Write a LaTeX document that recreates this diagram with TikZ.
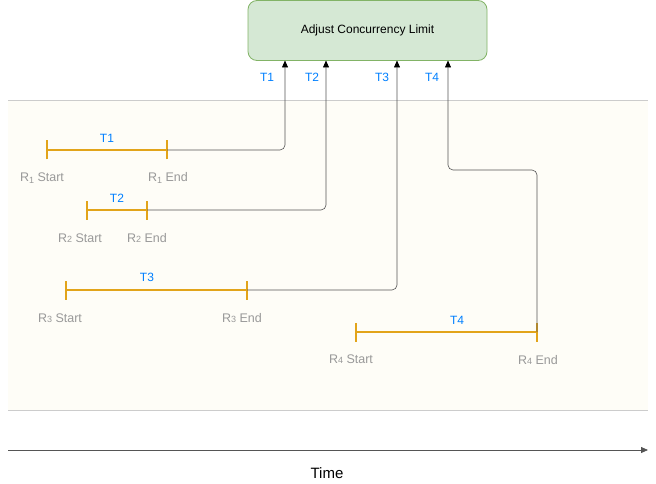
\documentclass[tikz,border=0pt]{standalone}
\usepackage{fontspec}
\setmainfont{Liberation Sans}
\usetikzlibrary{arrows.meta}
\definecolor{boxfill}{HTML}{D5E8D4}
\definecolor{boxline}{HTML}{82B366}
\definecolor{tblue}{HTML}{007FFF}
\definecolor{bar}{HTML}{E2A41A}
\definecolor{lbl}{HTML}{999999}
\definecolor{band}{HTML}{FEFDF7}
\definecolor{bandline}{HTML}{CCCCCC}
\definecolor{conn}{HTML}{555555}
\begin{document}
\begin{tikzpicture}[x=1pt,y=-1pt,
  tlabel/.style={text=tblue,font=\fontsize{12}{14}\selectfont,inner sep=0pt},
  rlabel/.style={text=lbl,font=\fontsize{12.5}{14}\selectfont,inner sep=0pt},
  barline/.style={draw=bar,line width=2pt},
  conline/.style={draw=conn,line width=0.6pt,rounded corners=5pt,-{Triangle[length=7pt,width=6pt,color=black]}},
]
\useasboundingbox (0,0) rectangle (656,484);
% band
\fill[band] (8,100) rectangle (648,410);
\draw[bandline,line width=0.8pt] (8,100) -- (648,100);
\draw[bandline,line width=0.8pt] (8,410) -- (648,410);
% box
\node[draw=boxline,fill=boxfill,rounded corners=9pt,minimum width=239pt,minimum height=60pt,line width=0.8pt,font=\fontsize{12}{14}\selectfont,inner sep=0pt] (box) at (367.5,30.5) {Adjust Concurrency Limit};
% coordinates on box bottom
\coordinate (a1) at (285,60.5);
\coordinate (a2) at (326,60.5);
\coordinate (a3) at (397,60.5);
\coordinate (a4) at (448,60.5);
% arrow labels
\node[tlabel] (t1a) at (267,77) {T1};
\node[tlabel] (t2a) at (312,77) {T2};
\node[tlabel] (t3a) at (382,77) {T3};
\node[tlabel] (t4a) at (432,77) {T4};
% bars
\coordinate (s1) at (47,150); \coordinate (e1) at (167,150);
\coordinate (s2) at (87,210); \coordinate (e2) at (147,210);
\coordinate (s3) at (66,290); \coordinate (e3) at (247,290);
\coordinate (s4) at (356,332); \coordinate (e4) at (537,332);
\foreach \s/\e in {s1/e1,s2/e2,s3/e3,s4/e4}{
  \draw[barline] (\s) -- (\e);
  \draw[barline] ([yshift=-9.5pt]\s) -- ([yshift=9.5pt]\s);
  \draw[barline] ([yshift=-9.5pt]\e) -- ([yshift=9.5pt]\e);
}
% bar labels
\node[tlabel] (t1) at (107,138) {T1};
\node[tlabel] (t2) at (117,198) {T2};
\node[tlabel] (t3) at (147,277) {T3};
\node[tlabel] (t4) at (457,320) {T4};
\node[rlabel] (r1s) at (42,178) {R\raisebox{-0.35ex}{\fontsize{9}{10}\selectfont 1} Start};
\node[rlabel] (r1e) at (168,178) {R\raisebox{-0.35ex}{\fontsize{9}{10}\selectfont 1} End};
\node[rlabel] (r2s) at (80,238) {R{\fontsize{9}{10}\selectfont 2} Start};
\node[rlabel] (r2e) at (147,238) {R{\fontsize{9}{10}\selectfont 2} End};
\node[rlabel] (r3s) at (60,318) {R{\fontsize{9}{10}\selectfont 3} Start};
\node[rlabel] (r3e) at (242,318) {R{\fontsize{9}{10}\selectfont 3} End};
\node[rlabel] (r4s) at (351,359) {R{\fontsize{9}{10}\selectfont 4} Start};
\node[rlabel] (r4e) at (538,360) {R{\fontsize{9}{10}\selectfont 4} End};
% connectors
\draw[conline] (e1) -| (a1);
\draw[conline] (e2) -| (a2);
\draw[conline] (e3) -| (a3);
\draw[conline] (e4) |- (448,170) -- (a4);
% time axis
\coordinate (ts) at (8,450);
\coordinate (te) at (648,450);
\draw[draw=conn,line width=0.8pt,-{Triangle[length=7pt,width=6pt]}] (ts) -- (te);
\node[font=\fontsize{15}{17}\selectfont,inner sep=0pt] (time) at (327,473) {Time};
\end{tikzpicture}
\end{document}
